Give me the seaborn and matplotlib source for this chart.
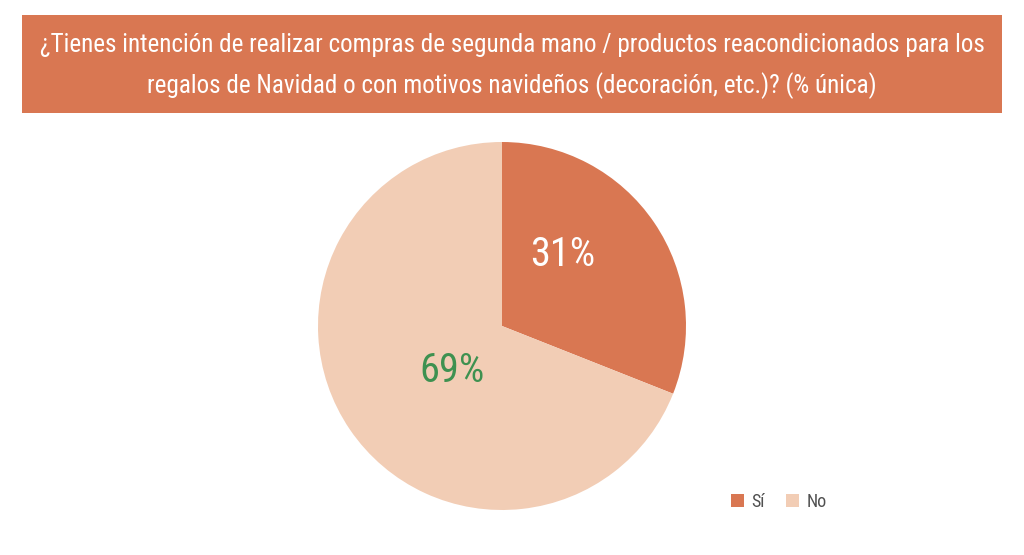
import seaborn as sns
import matplotlib.pyplot as plt
from matplotlib.patches import Rectangle, Patch

categories = ['Sí', 'No']
values = [31, 69]
label_text = ['31%', '69%']
title_lines = ['¿Tienes intención de realizar compras de segunda mano / productos reacondicionados para los',
               'regalos de Navidad o con motivos navideños (decoración, etc.)? (% única)']

sns.set_style('white')
plt.rcParams['font.family'] = ['Roboto Condensed', 'DejaVu Sans']

colors = ['#D97752', '#F2CDB5']
W, H = 1024, 555
fig = plt.figure(figsize=(W / 100, H / 100), dpi=100)

# title banner
fig.patches.append(Rectangle((22 / W, (H - 113) / H), 980 / W, 98 / H,
                             transform=fig.transFigure, facecolor='#D97752', edgecolor='none'))
t1 = fig.text(512 / W, 1 - 45 / H, title_lines[0], ha='center', va='center', color='white', fontsize=21)
t2 = fig.text(512 / W, 1 - 86 / H, title_lines[1], ha='center', va='center', color='white', fontsize=21)
renderer = fig.canvas.get_renderer()
w1 = t1.get_window_extent(renderer).width
fs = 21 * 945 / w1
t1.set_fontsize(fs)
t2.set_fontsize(fs)

# pie
cx, cy, r = 502, H - 326, 184
ax = fig.add_axes([(cx - r) / W, (cy - r) / H, 2 * r / W, 2 * r / H])
wedges, texts = ax.pie(values, colors=colors, startangle=90, counterclock=False,
                       wedgeprops=dict(linewidth=0))
ax.set_xlim(-1, 1)
ax.set_ylim(-1, 1)
ax.set_aspect('equal')
ax.axis('off')

label_pos = [(0.33, 0.39), (-0.27, -0.24)]
label_col = ['white', '#3E9150']
for t, p, c in zip(label_text, label_pos, label_col):
    ax.text(p[0], p[1], t, ha='center', va='center', color=c, fontsize=29)

# legend
handles = [Patch(facecolor=c, edgecolor='none') for c in colors]
fig.legend(handles, categories, loc='center', bbox_to_anchor=(779 / W, 1 - 502 / H), ncol=2,
           frameon=False, fontsize=13, handlelength=0.7, handleheight=0.7,
           handletextpad=0.4, columnspacing=1.2, labelcolor='#505050')

fig.savefig('out.png', dpi=100)
